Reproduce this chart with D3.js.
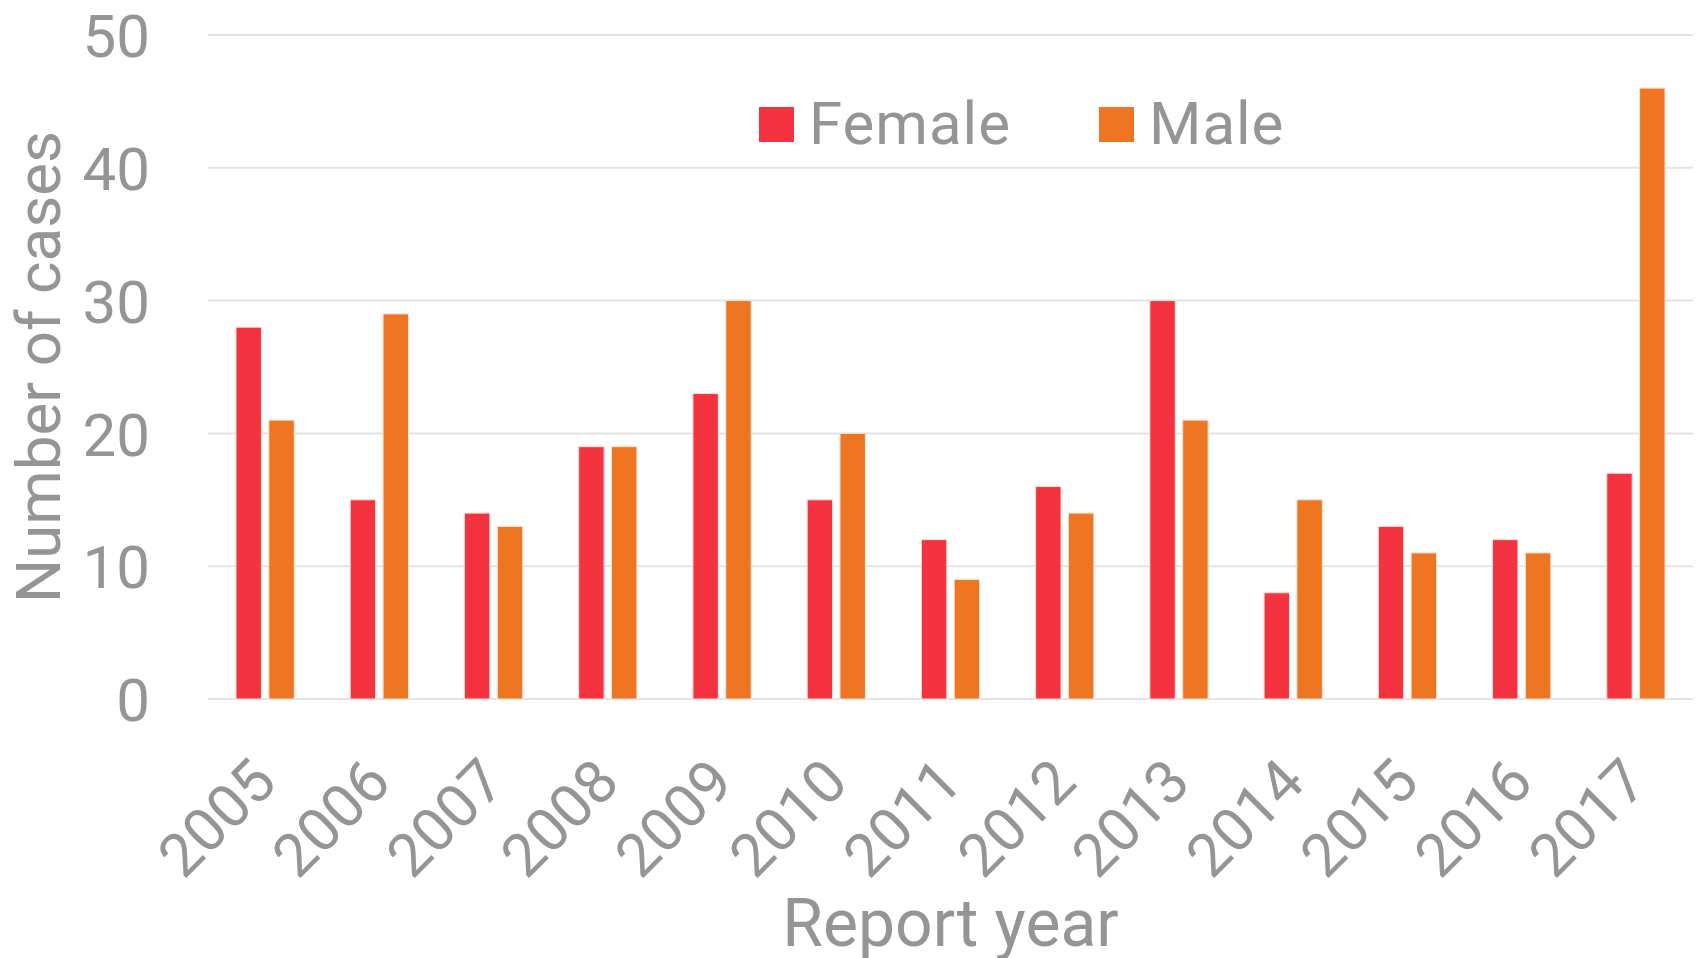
<!doctype html>
<html lang="en">
   <head>
      <meta charset="utf-8">
      <title>Number of cases by report year</title>
      <script src="https://d3js.org/d3.v7.min.js"></script>
      <style>
         body { margin: 0; background: #fff; }
         svg text { font-family: Roboto, "Open Sans", sans-serif; fill: #959595; }
      </style>
   </head>
   <body>
      <svg id="chart" width="1698" height="958"></svg>
      <script>
      // data
      var years = ["2005", "2006", "2007", "2008", "2009", "2010", "2011",
                   "2012", "2013", "2014", "2015", "2016", "2017"];
      var female = [28, 15, 14, 19, 23, 15, 12, 16, 30, 8, 13, 12, 17];
      var male = [21, 29, 13, 19, 30, 20, 9, 14, 21, 15, 11, 11, 46];
      var yTicks = [0, 10, 20, 30, 40, 50];
      var seriesNames = ["Female", "Male"];
      var seriesColors = ["#f5323f", "#ee7623"];

      var svg = d3.select("#chart");
      var plotLeft = 208, plotRight = 1693, plotTop = 35, plotBottom = 699;

      var x0 = d3.scaleBand()
         .domain(years)
         .range([plotLeft, plotRight])
         .paddingInner(0.49)
         .paddingOuter(0.245);

      var x1 = d3.scaleBand()
         .domain(seriesNames)
         .range([0, x0.bandwidth()])
         .paddingInner(0.226);

      var y = d3.scaleLinear()
         .domain([0, 50])
         .range([plotBottom, plotTop]);

      var color = d3.scaleOrdinal().domain(seriesNames).range(seriesColors);

      // gridlines
      svg.append("g")
         .attr("class", "grid")
         .selectAll("line")
         .data(yTicks)
         .enter().append("line")
         .attr("x1", plotLeft)
         .attr("x2", plotRight)
         .attr("y1", function(d) { return y(d); })
         .attr("y2", function(d) { return y(d); })
         .attr("stroke", "#e4e4e4")
         .attr("stroke-width", 2);

      // y tick labels
      var yAxis = svg.append("g")
         .attr("transform", "translate(150,0)")
         .call(d3.axisLeft(y).tickValues(yTicks).tickSize(0).tickPadding(0));
      yAxis.select(".domain").remove();
      yAxis.selectAll("text")
         .attr("font-size", 60)
         .attr("dy", "0.36em")
         .style("fill", "#959595");

      // bars
      var rows = years.map(function(yr, i) {
         return { year: yr, values: [
            { key: "Female", value: female[i] },
            { key: "Male", value: male[i] }
         ] };
      });

      var groups = svg.append("g")
         .selectAll("g")
         .data(rows)
         .enter().append("g")
         .attr("transform", function(d) { return "translate(" + x0(d.year) + ",0)"; });

      groups.selectAll("rect")
         .data(function(d) { return d.values; })
         .enter().append("rect")
         .attr("x", function(d) { return x1(d.key); })
         .attr("y", function(d) { return y(d.value); })
         .attr("width", x1.bandwidth())
         .attr("height", function(d) { return y(0) - y(d.value); })
         .attr("fill", function(d) { return color(d.key); })
         .attr("stroke", "#fde3d3")
         .attr("stroke-width", 1);

      // x tick labels, rotated
      var xAxis = svg.append("g")
         .attr("transform", "translate(0," + plotBottom + ")")
         .call(d3.axisBottom(x0).tickSize(0));
      xAxis.select(".domain").remove();
      xAxis.selectAll("text")
         .attr("font-size", 60)
         .attr("text-anchor", "end")
         .attr("dy", 0)
         .attr("y", 0)
         .attr("transform", "translate(14,86) rotate(-45)")
         .style("fill", "#959595");

      // axis titles
      svg.append("text")
         .attr("transform", "translate(60," + ((plotTop + plotBottom) / 2) + ") rotate(-90)")
         .attr("text-anchor", "middle")
         .attr("font-size", 62)
         .text("Number of cases");

      svg.append("text")
         .attr("x", (plotLeft + plotRight) / 2)
         .attr("y", 946)
         .attr("text-anchor", "middle")
         .attr("font-size", 66)
         .text("Report year");

      // legend
      var legendX = [759, 1099];
      var legend = svg.append("g")
         .selectAll("g")
         .data(seriesNames)
         .enter().append("g")
         .attr("transform", function(d, i) { return "translate(" + legendX[i] + ",107)"; });

      legend.append("rect")
         .attr("width", 35)
         .attr("height", 35)
         .attr("fill", function(d) { return color(d); });

      legend.append("text")
         .attr("x", 50)
         .attr("y", 37)
         .attr("font-size", 60)
         .attr("letter-spacing", 1)
         .text(function(d) { return d; });
      </script>
   </body>
</html>
